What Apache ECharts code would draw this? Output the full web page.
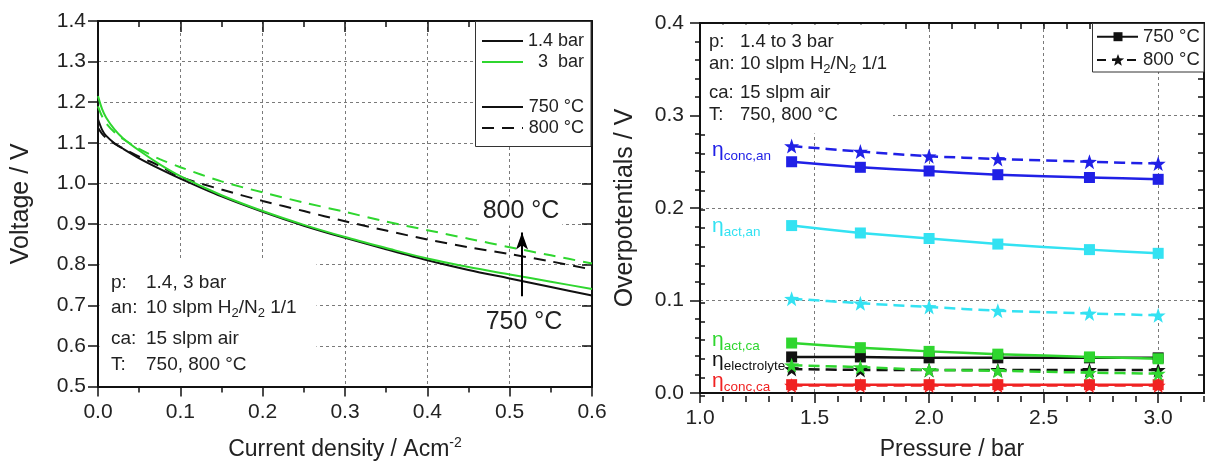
<!DOCTYPE html>
<html><head><meta charset="utf-8">
<script src="https://cdn.jsdelivr.net/npm/echarts@6/dist/echarts.min.js"></script>
<style>html,body{margin:0;padding:0;background:#fff}#c{width:1205px;height:466px}</style>
</head><body><div id="c"></div>
<script>
// ---------- Left panel data: V-j curves ----------
const currentDensity = [0, 0.005, 0.01, 0.02, 0.03, 0.05, 0.075, 0.1, 0.15, 0.2, 0.25, 0.3, 0.35, 0.4, 0.45, 0.5, 0.55, 0.6];
const v14bar750 = [1.158, 1.132, 1.117, 1.099, 1.086, 1.062, 1.036, 1.012, 0.968, 0.930, 0.896, 0.866, 0.838, 0.811, 0.787, 0.766, 0.745, 0.724];
const v3bar750  = [1.215, 1.183, 1.162, 1.133, 1.112, 1.081, 1.047, 1.018, 0.971, 0.932, 0.898, 0.868, 0.841, 0.815, 0.794, 0.776, 0.758, 0.740];
const v14bar800 = [1.137, 1.122, 1.112, 1.098, 1.087, 1.066, 1.043, 1.016, 0.985, 0.957, 0.932, 0.907, 0.884, 0.862, 0.843, 0.826, 0.808, 0.788];
const v3bar800  = [1.190, 1.165, 1.148, 1.126, 1.110, 1.085, 1.060, 1.040, 1.005, 0.978, 0.953, 0.930, 0.906, 0.885, 0.864, 0.843, 0.823, 0.803];
const arrowJ = 0.515, arrowFromV = 0.722, arrowToV = 0.879;
const leftXTicks = [0, 0.6, 0.1];   // min, max, interval
const leftYTicks = [0.5, 1.4, 0.1];

// ---------- Right panel data: overpotentials vs pressure ----------
const pressure   = [1.4, 1.7, 2.0, 2.3, 2.7, 3.0];
const concAn750  = [0.250, 0.244, 0.240, 0.236, 0.233, 0.231];
const concAn800  = [0.267, 0.261, 0.256, 0.253, 0.250, 0.248];
const actAn750   = [0.181, 0.173, 0.167, 0.161, 0.155, 0.151];
const actAn800   = [0.102, 0.097, 0.093, 0.089, 0.086, 0.084];
const actCa750   = [0.054, 0.049, 0.045, 0.042, 0.039, 0.037];
const actCa800   = [0.030, 0.028, 0.025, 0.024, 0.022, 0.021];
const elec750    = [0.039, 0.039, 0.038, 0.038, 0.038, 0.038];
const elec800    = [0.026, 0.025, 0.025, 0.025, 0.025, 0.025];
const concCa750  = [0.009, 0.009, 0.009, 0.009, 0.009, 0.009];
const concCa800  = [0.008, 0.008, 0.008, 0.008, 0.008, 0.008];
const rightXTicks = [1.0, 3.2, 0.5];
const rightYTicks = [0.0, 0.4, 0.1];

const FONT = "'Liberation Sans', Arial, Helvetica, sans-serif";
const C = {blue:'#2020e6', cyan:'#33e2f2', green:'#2fd62f', red:'#f02222', black:'#111111'};
const STAR = 'path://M0,-10 L2.351,-3.236 L9.511,-3.09 L3.804,1.236 L5.878,8.09 L0,4 L-5.878,8.09 L-3.804,1.236 L-9.511,-3.09 L-2.351,-3.236 Z';

const zip = (xs, ys) => xs.map((x, i) => [x, ys[i]]);

const axisLineS = {show:true, onZero:false, lineStyle:{color:'#111', width:2}};
const gridLineS = {show:true, lineStyle:{color:'#7a7a7a', width:1, type:[3,3]}};
const labelS = {fontSize:21, color:'#222', fontFamily:FONT};
const nameS = (sz) => ({fontSize:sz, color:'#222', fontFamily:FONT, rich:{sup:{fontSize:14, fontFamily:FONT, color:'#222', padding:[0,0,12,0]}}});

function leftCurve(name, ys, color, dashed, extra) {
  return Object.assign({
    name, type:'line', xAxisIndex:0, yAxisIndex:0, data: zip(currentDensity, ys),
    symbol:'none', smooth:0.3, lineStyle:{color, width:2, type: dashed ? [12,8] : 'solid'}, z:2
  }, extra || {});
}
function rightSeries(name, ys, color, dashed) {
  return {
    name, type:'line', xAxisIndex:2, yAxisIndex:2, data: zip(pressure, ys), smooth:0.2,
    symbol: dashed ? STAR : 'rect', symbolSize: dashed ? 15 : 11, showSymbol:true,
    itemStyle:{color}, lineStyle:{color, width:2.5, type: dashed ? [11,6] : 'solid'}, z:2
  };
}
function starPts(cx, cy, R, r) {
  const pts = [];
  for (let k = 0; k < 10; k++) {
    const a = -Math.PI/2 + k*Math.PI/5, rr = k % 2 ? r : R;
    pts.push([cx + rr*Math.cos(a), cy + rr*Math.sin(a)]);
  }
  return pts;
}
const txt = (x, y, text, size, opts) => ({
  type:'text', x, y, z:5,
  style:Object.assign({text, fontSize:size, fontFamily:FONT, fill:'#222', align:'left', verticalAlign:'middle'}, opts || {})
});
const sub2 = {s:{fontSize:13, fontFamily:FONT, fill:'#222', padding:[10,0,0,0]}};
const eta = (x, y, subText, color) => txt(x, y, '{e|η}{s|' + subText + '}', 21, {fill:color,
  rich:{e:{fontSize:21, fontFamily:FONT, fill:color}, s:{fontSize:13.5, fontFamily:FONT, fill:color, padding:[13,0,0,0]}}});

const chart = echarts.init(document.getElementById('c'), null, {renderer:'canvas'});
chart.setOption({
  animation:false,
  backgroundColor:'#fff',
  grid:[
    {left:98, top:21, width:494, height:366},
    {left:700, top:23, width:504, height:373},
    {left:700, top:23, width:504, height:373}
  ],
  xAxis:[
    {gridIndex:0, type:'value', position:'bottom', min:leftXTicks[0], max:leftXTicks[1], interval:leftXTicks[2],
     axisLine:axisLineS, axisTick:{show:true, length:10, lineStyle:{color:'#111', width:1.5}},
     minorTick:{show:true, splitNumber:2, length:6, lineStyle:{color:'#111', width:1.5}},
     axisLabel:Object.assign({margin:15, formatter:v=>v.toFixed(1)}, labelS), splitLine:gridLineS,
     name:'Current density / Acm{sup|-2}', nameLocation:'middle', nameGap:50, nameTextStyle:nameS(23)},
    {gridIndex:0, type:'value', position:'top', min:leftXTicks[0], max:leftXTicks[1], interval:leftXTicks[2],
     axisLine:axisLineS, axisTick:{show:true, inside:true, length:11, lineStyle:{color:'#111', width:1.5}},
     minorTick:{show:true, splitNumber:2, length:6, lineStyle:{color:'#111', width:1.5}},
     axisLabel:{show:false}, splitLine:{show:false}},
    {gridIndex:1, type:'value', position:'bottom', min:rightXTicks[0], max:rightXTicks[1], interval:rightXTicks[2],
     axisLine:axisLineS, axisTick:{show:true, length:10, lineStyle:{color:'#111', width:1.5}},
     axisLabel:Object.assign({margin:15, showMaxLabel:false, formatter:v=>v.toFixed(1)}, labelS), splitLine:gridLineS,
     name:'Pressure / bar', nameLocation:'middle', nameGap:45, nameTextStyle:nameS(23)},
    {gridIndex:1, type:'value', position:'top', min:rightXTicks[0], max:rightXTicks[1], interval:0.1,
     axisLine:axisLineS, axisTick:{show:true, inside:true, length:6, lineStyle:{color:'#111', width:1.5}},
     axisLabel:{show:false}, splitLine:{show:false}},
    {gridIndex:2, type:'value', position:'bottom', min:rightXTicks[0], max:rightXTicks[1], interval:0.1,
     axisLine:{show:false}, axisTick:{show:true, length:6, lineStyle:{color:'#111', width:1.5}},
     axisLabel:{show:false}, splitLine:{show:false}}
  ],
  yAxis:[
    {gridIndex:0, type:'value', position:'left', min:leftYTicks[0], max:leftYTicks[1], interval:leftYTicks[2],
     axisLine:axisLineS, axisTick:{show:true, length:10, lineStyle:{color:'#111', width:1.5}},
     axisLabel:Object.assign({margin:12, formatter:v=>v.toFixed(1)}, labelS), splitLine:gridLineS,
     name:'Voltage / V', nameLocation:'middle', nameGap:64, nameTextStyle:nameS(25)},
    {gridIndex:0, type:'value', position:'right', min:leftYTicks[0], max:leftYTicks[1], interval:leftYTicks[2],
     axisLine:axisLineS, axisTick:{show:true, inside:true, length:10, lineStyle:{color:'#111', width:1.5}},
     axisLabel:{show:false}, splitLine:{show:false}},
    {gridIndex:1, type:'value', position:'left', min:rightYTicks[0], max:rightYTicks[1], interval:rightYTicks[2],
     axisLine:axisLineS, axisTick:{show:true, length:10, lineStyle:{color:'#111', width:1.5}},
     minorTick:{show:true, splitNumber:5, length:5, lineStyle:{color:'#111', width:1.5}},
     axisLabel:Object.assign({margin:16, formatter:v=>v.toFixed(1)}, labelS), splitLine:gridLineS,
     name:'Overpotentials / V', nameLocation:'middle', nameGap:62, nameTextStyle:nameS(25)},
    {gridIndex:1, type:'value', position:'right', min:rightYTicks[0], max:rightYTicks[1], interval:0.02,
     axisLine:axisLineS, axisTick:{show:true, inside:true, length:6, lineStyle:{color:'#111', width:1.5}},
     axisLabel:{show:false}, splitLine:{show:false}},
    {gridIndex:2, type:'value', position:'left', min:rightYTicks[0], max:rightYTicks[1], interval:0.02,
     axisLine:{show:false}, axisTick:{show:true, inside:true, length:5, lineStyle:{color:'#111', width:1.5}},
     axisLabel:{show:false}, splitLine:{show:false}}
  ],
  series:[
    leftCurve('1.4 bar 800 °C', v14bar800, '#111', true, {
      markLine:{silent:true, symbol:['none','arrow'], symbolSize:[9,17], label:{show:false},
        lineStyle:{color:'#000', width:2, type:'solid'},
        data:[[{coord:[arrowJ, arrowFromV]}, {coord:[arrowJ, arrowToV]}]]}}),
    leftCurve('3 bar 800 °C', v3bar800, C.green, true),
    leftCurve('1.4 bar 750 °C', v14bar750, '#111', false),
    leftCurve('3 bar 750 °C', v3bar750, C.green, false),

    rightSeries('conc,ca 800', concCa800, C.red, true),
    rightSeries('conc,ca 750', concCa750, C.red, false),
    rightSeries('electrolyte 800', elec800, C.black, true),
    rightSeries('electrolyte 750', elec750, C.black, false),
    rightSeries('act,ca 800', actCa800, C.green, true),
    rightSeries('act,ca 750', actCa750, C.green, false),
    rightSeries('act,an 800', actAn800, C.cyan, true),
    rightSeries('act,an 750', actAn750, C.cyan, false),
    rightSeries('conc,an 800', concAn800, C.blue, true),
    rightSeries('conc,an 750', concAn750, C.blue, false)
  ],
  graphic:{elements:[
    // white masks hiding grid lines behind the text blocks / legends
    {type:'rect', z:1, shape:{x:99.5, y:258, width:217, height:128}, style:{fill:'#fff'}},
    {type:'rect', z:1, shape:{x:701, y:24.5, width:192, height:109}, style:{fill:'#fff'}},
    // left legend
    {type:'rect', z:1, shape:{x:475.5, y:21.5, width:115.5, height:125}, style:{fill:'#fff', stroke:'#333', lineWidth:1}},
    {type:'line', z:5, shape:{x1:482, y1:41, x2:523, y2:41}, style:{stroke:'#111', lineWidth:2}},
    {type:'line', z:5, shape:{x1:482, y1:62, x2:523, y2:62}, style:{stroke:C.green, lineWidth:2}},
    {type:'line', z:5, shape:{x1:482, y1:107, x2:523, y2:107}, style:{stroke:'#111', lineWidth:2}},
    {type:'line', z:5, shape:{x1:482, y1:128, x2:523, y2:128}, style:{stroke:'#111', lineWidth:2, lineDash:[12,8]}},
    txt(584, 41, '1.4 bar', 18, {align:'right'}),
    txt(584, 62, '3  bar', 18, {align:'right'}),
    txt(584, 107, '750 °C', 18, {align:'right'}),
    txt(584, 128, '800 °C', 18, {align:'right'}),
    // right legend
    {type:'rect', z:1, shape:{x:1092.5, y:23.5, width:111.5, height:48.5}, style:{fill:'#fff', stroke:'#333', lineWidth:1}},
    {type:'line', z:5, shape:{x1:1097, y1:36.7, x2:1138, y2:36.7}, style:{stroke:'#111', lineWidth:2}},
    {type:'rect', z:5, shape:{x:1113.5, y:32.2, width:9, height:9}, style:{fill:'#111'}},
    {type:'line', z:5, shape:{x1:1097, y1:60, x2:1138, y2:60}, style:{stroke:'#111', lineWidth:2, lineDash:[9,6]}},
    {type:'polygon', z:5, shape:{points:starPts(1118, 60.5, 6.5, 2.7)}, style:{fill:'#111'}},
    txt(1143, 37, '750 °C', 18.5),
    txt(1143, 60, '800 °C', 18.5),
    // left condition text
    txt(111, 283, 'p:', 19), txt(146, 283, '1.4, 3 bar', 19),
    txt(111, 308, 'an:', 19), txt(146, 308, '10 slpm H{s|2}/N{s|2} 1/1', 19, {rich:sub2}),
    txt(111, 339, 'ca:', 19), txt(146, 339, '15 slpm air', 19),
    txt(111, 365, 'T:', 19), txt(146, 365, '750, 800 °C', 19),
    // temperature annotations
    txt(521, 211, '800 °C', 25, {align:'center', backgroundColor:'#fff', padding:[2,3]}),
    txt(524, 322, '750 °C', 25, {align:'center', backgroundColor:'#fff', padding:[2,3]}),
    // right condition text
    txt(709, 42, 'p:', 18.5), txt(740, 42, '1.4 to 3 bar', 18.5),
    txt(709, 64, 'an:', 18.5), txt(740, 64, '10 slpm H{s|2}/N{s|2} 1/1', 18.5, {rich:sub2}),
    txt(709, 93, 'ca:', 18.5), txt(740, 93, '15 slpm air', 18.5),
    txt(709, 115, 'T:', 18.5), txt(740, 115, '750, 800 °C', 18.5),
    // eta labels
    eta(712, 150, 'conc,an', C.blue),
    eta(712, 226, 'act,an', C.cyan),
    eta(712, 340, 'act,ca', C.green),
    eta(712, 360, 'electrolyte', '#111'),
    eta(712, 381, 'conc,ca', C.red)
  ]}
});
</script></body></html>
